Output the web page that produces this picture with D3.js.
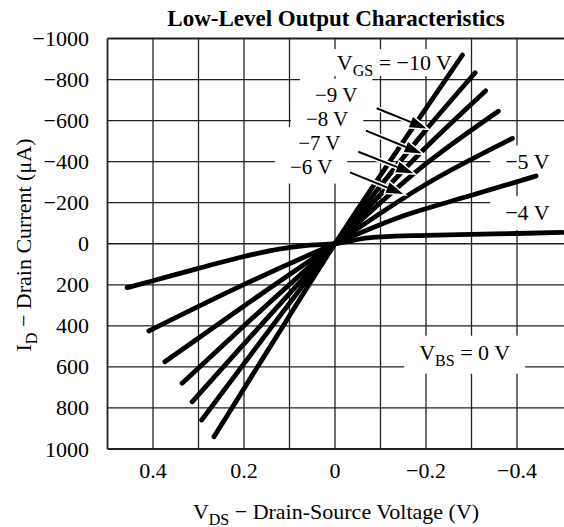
<!DOCTYPE html>
<html><head><meta charset="utf-8">
<script src="https://cdn.jsdelivr.net/npm/d3@7/dist/d3.min.js"></script>
<style>
body{margin:0;background:#fff}
text{font-family:"Liberation Serif","Times New Roman",serif;fill:#000}
</style>
</head><body>
<svg id="c" width="564" height="527"></svg>
<script>
// ---------- data ----------
const chartTitle = "Low-Level Output Characteristics";
const xTickValues = [0.4, 0.2, 0, -0.2, -0.4];
const xTickLabels = ["0.4", "0.2", "0", "\u22120.2", "\u22120.4"];
const xGridValues = [0.5, 0.4, 0.3, 0.2, 0.1, 0, -0.1, -0.2, -0.3, -0.4];
const yTickValues = [-1000, -800, -600, -400, -200, 0, 200, 400, 600, 800, 1000];
const yTickLabels = ["\u22121000", "\u2212800", "\u2212600", "\u2212400", "\u2212200", "0", "200", "400", "600", "800", "1000"];

// curves: [V_DS (V), I_D (uA)]
const vgsMinus4  = [[0.457,214],[0.40,180],[0.30,120],[0.20,62],[0.12,25],[0.06,8],[0,0],[-0.03,-12],[-0.06,-25],[-0.1,-33],[-0.2,-41],[-0.3,-46],[-0.4,-50],[-0.5,-55]];
const vgsMinus5  = [[0.409,425],[0.21,209],[0,0],[-0.14,-128],[-0.3,-236],[-0.442,-330]];
const vgsMinus6  = [[0.374,575],[0.2,303],[0,0],[-0.2,-290],[-0.39,-513]];
const vgsMinus7  = [[0.336,680],[0.2,400],[0,0],[-0.2,-390],[-0.359,-646]];
const vgsMinus8  = [[0.314,770],[0.2,488],[0,0],[-0.2,-470],[-0.331,-745]];
const vgsMinus9  = [[0.293,859],[0.2,584],[0,0],[-0.2,-555],[-0.308,-833]];
const vgsMinus10 = [[0.266,940],[0.15,528],[0,0],[-0.15,-498],[-0.280,-919]];
const curves = [vgsMinus4, vgsMinus5, vgsMinus6, vgsMinus7, vgsMinus8, vgsMinus9, vgsMinus10];

// annotation labels: text parts, anchor point (V, uA)
const labelMain  = ["V", "\u22129 V", "\u22128 V", "\u22127 V", "\u22126 V", "\u22125 V", "\u22124 V", "V"];
const labelSub   = ["GS", "", "", "", "", "", "", "BS"];
const labelTail  = [" = \u221210 V", "", "", "", "", "", "", " = 0 V"];
const labelV     = [-0.004, 0.044, 0.064, 0.081, 0.099, -0.374, -0.374, -0.185];
const labelI     = [-846, -692, -573, -456, -342, -362, -115, 565];

// arrows: from (V,uA) to (V,uA)
const arrowFrom = [[-0.0916,-660],[-0.068,-551],[-0.0512,-448],[-0.033,-348]];
const arrowTo   = [[-0.2015,-562],[-0.1905,-440],[-0.172,-343],[-0.150,-242]];

// ---------- layout ----------
const svg = d3.select("#c");
const x = d3.scaleLinear().domain([0.4, -0.4]).range([153, 517]);
const y = d3.scaleLinear().domain([-1000, 1000]).range([38.5, 449]);
const FS = 22;

// grid
const g = svg.append("g");
g.selectAll("line.v").data(xGridValues).join("line")
  .attr("x1", d => x(d)).attr("x2", d => x(d))
  .attr("y1", y(-1000)).attr("y2", y(1000))
  .attr("stroke", "#222").attr("stroke-width", d => d === 0.5 ? 1.8 : 1.3);
g.selectAll("line.h").data(yTickValues).join("line")
  .attr("x1", x(0.5)).attr("x2", 564)
  .attr("y1", d => y(d)).attr("y2", d => y(d))
  .attr("stroke", "#222").attr("stroke-width", d => (d === -1000 || d === 1000) ? 1.8 : 1.3);

// tick labels
svg.append("g").selectAll("text").data(xTickValues).join("text")
  .attr("x", d => x(d)).attr("y", 478)
  .attr("text-anchor", "middle").attr("font-size", FS)
  .text((d, i) => xTickLabels[i]);
svg.append("g").selectAll("text").data(yTickValues).join("text")
  .attr("x", 89).attr("y", d => y(d) + 7.5)
  .attr("text-anchor", "end").attr("font-size", FS)
  .text((d, i) => yTickLabels[i]);

// title
svg.append("text").attr("x", 336).attr("y", 26).attr("text-anchor", "middle")
  .attr("font-size", 23).attr("font-weight", "bold").text(chartTitle);

// axis titles
const xt = svg.append("text").attr("x", 336).attr("y", 519).attr("text-anchor", "middle").attr("font-size", FS);
xt.append("tspan").text("V");
xt.append("tspan").attr("font-size", 16).attr("dy", 6).text("DS");
xt.append("tspan").attr("dy", -6).text(" \u2212 Drain-Source Voltage (V)");

const yt = svg.append("text").attr("transform", "translate(31,245) rotate(-90)")
  .attr("text-anchor", "middle").attr("font-size", FS);
yt.append("tspan").text("I");
yt.append("tspan").attr("font-size", 16).attr("dy", 6).text("D");
yt.append("tspan").attr("dy", -6).text(" \u2212 Drain Current (\u03bcA)");

// annotation labels with white boxes
const boxLayer = svg.append("g");
const labelLayer = svg.append("g");
labelMain.forEach((m, i) => {
  const stacked = i >= 1 && i <= 4;
  const t = labelLayer.append("text").attr("x", x(labelV[i])).attr("y", y(labelI[i]))
    .attr("font-size", stacked ? 21 : FS);
  t.append("tspan").text(m);
  if (labelSub[i]) {
    t.append("tspan").attr("font-size", 16).attr("dy", 6).text(labelSub[i]);
    t.append("tspan").attr("dy", -6).text(labelTail[i]);
  }
  const b = t.node().getBBox();
  const top = i === 0 ? 1 : 4, bot = i === 0 ? -3 : 5;
  boxLayer.append("rect").attr("x", b.x - 15).attr("y", b.y - top)
    .attr("width", b.width + 30).attr("height", b.height + top + bot).attr("fill", "#fff");
});

// curves
const line = d3.line().x(d => x(d[0])).y(d => y(d[1])).curve(d3.curveMonotoneX);
svg.append("g").selectAll("path").data(curves).join("path")
  .attr("d", line).attr("fill", "none").attr("stroke", "#000")
  .attr("stroke-width", 4.8).attr("stroke-linecap", "round");

// arrows
const ag = svg.append("g");
arrowFrom.forEach((f, i) => {
  const x1 = x(f[0]), y1 = y(f[1]), x2 = x(arrowTo[i][0]), y2 = y(arrowTo[i][1]);
  const ang = Math.atan2(y2 - y1, x2 - x1);
  const L = 17, W = 5.5;
  const bx = x2 - L * Math.cos(ang), by = y2 - L * Math.sin(ang);
  const px = -Math.sin(ang) * W, py = Math.cos(ang) * W;
  const head = `M${x2},${y2}L${bx + px},${by + py}L${bx - px},${by - py}Z`;
  ag.append("line").attr("x1", x1).attr("y1", y1).attr("x2", bx).attr("y2", by)
    .attr("stroke", "#fff").attr("stroke-width", 5);
  ag.append("path").attr("d", head).attr("fill", "#fff").attr("stroke", "#fff").attr("stroke-width", 3);
  ag.append("line").attr("x1", x1).attr("y1", y1).attr("x2", bx).attr("y2", by)
    .attr("stroke", "#000").attr("stroke-width", 2);
  ag.append("path").attr("d", head).attr("fill", "#000");
});
</script>
</body></html>
